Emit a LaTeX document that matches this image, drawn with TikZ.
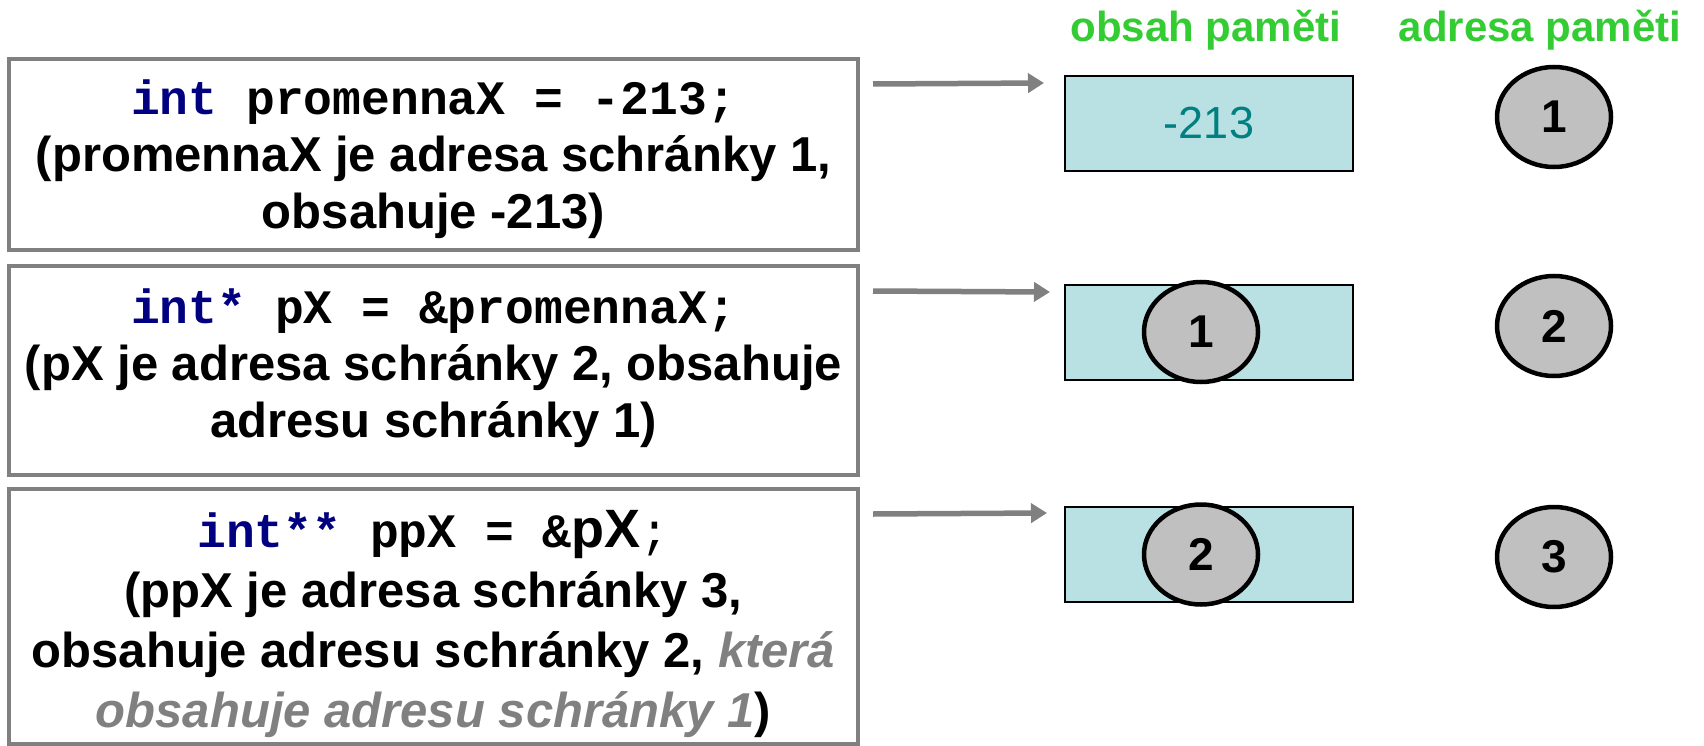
\documentclass[tikz,border=0pt]{standalone}
\usepackage{fontspec}
\setmainfont{Liberation Sans}
\setmonofont{Liberation Mono}
\usetikzlibrary{arrows.meta,shapes.geometric}
\definecolor{boxgrey}{RGB}{128,128,128}
\definecolor{arrowgrey}{RGB}{128,128,128}
\definecolor{cellfill}{RGB}{185,224,227}
\definecolor{ovalgrey}{RGB}{192,192,192}
\definecolor{headgreen}{RGB}{51,204,51}
\definecolor{valteal}{RGB}{0,128,128}
\definecolor{kwnavy}{RGB}{0,0,128}
\definecolor{notegrey}{RGB}{128,128,128}
\begin{document}
\begin{tikzpicture}[x=1pt,y=-1pt,
  codebox/.style={draw=boxgrey, line width=4pt, minimum width=849pt, inner sep=0pt},
  codetext/.style={align=center, inner sep=0pt, font=\fontsize{49}{57}\selectfont\bfseries},
  memcell/.style={draw=black, line width=2pt, fill=cellfill, minimum width=288pt,
    minimum height=95pt, inner sep=0pt},
  addr/.style={ellipse, draw=black, line width=4.5pt, fill=ovalgrey, minimum width=114pt,
    minimum height=100pt, inner sep=0pt, font=\fontsize{46}{46}\selectfont\bfseries},
  heading/.style={text=headgreen, font=\fontsize{42}{42}\selectfont\bfseries, inner sep=0pt},
  ptr/.style={draw=arrowgrey, line width=5.5pt, -{Triangle[length=16pt,width=19pt]}}
]
\useasboundingbox (0,0) rectangle (1704,746);

% left code boxes (frames)
\node[codebox, minimum height=191pt] (b1) at (433.5,154.5) {};
\node[codebox, minimum height=209pt] (b2) at (433.5,370.5) {};
\node[codebox, minimum height=255pt] (b3) at (433.5,616.5) {};

% texts in the boxes
\node[codetext] (t1) at (433.5,159)
  {\ttfamily\fontsize{48}{57}\selectfont\textcolor{kwnavy}{int} promennaX = -213;\\
   (promennaX je adresa schránky 1,\\ obsahuje -213)};
\node[codetext] (t2) at (433.5,368)
  {\ttfamily\fontsize{48}{57}\selectfont\textcolor{kwnavy}{int*} pX = \&promennaX;\\
   (pX je adresa schránky 2, obsahuje\\ adresu schránky 1)};
\node[codetext, font=\fontsize{49}{60}\selectfont\bfseries] (t3) at (433.5,624)
  {\ttfamily\fontsize{48}{60}\selectfont\textcolor{kwnavy}{int**} ppX = \&{\rmfamily\fontsize{54}{60}\selectfont pX}{\mdseries;}\\
   (ppX je adresa schránky 3,\\
   obsahuje adresu schránky 2, \textcolor{notegrey}{\itshape která}\\
   \textcolor{notegrey}{\itshape obsahuje adresu schránky 1})};

% headings
\node[heading] (h1) at (1206,30) {obsah paměti};
\node[heading] (h2) at (1540,30) {adresa paměti};

% memory cells
\node[memcell, text=valteal, font=\fontsize{45}{45}\selectfont] (m1) at (1209,123.5) {-213};
\node[memcell] (m2) at (1209,332) {};
\node[memcell] (m3) at (1209,554.5) {};
\node[addr] (v1) at (1201,332) {1};
\node[addr] (v2) at (1201,554.5) {2};

% addresses
\node[addr] (a1) at (1554,117) {1};
\node[addr] (a2) at (1554,326) {2};
\node[addr] (a3) at (1554,557) {3};

% arrows
\coordinate (s1) at (873,84);  \coordinate (e1) at (1044,83);
\coordinate (s2) at (873,291); \coordinate (e2) at (1050,292);
\coordinate (s3) at (873,514); \coordinate (e3) at (1047,513);
\draw[ptr] (s1) -- (e1);
\draw[ptr] (s2) -- (e2);
\draw[ptr] (s3) -- (e3);
\end{tikzpicture}
\end{document}
